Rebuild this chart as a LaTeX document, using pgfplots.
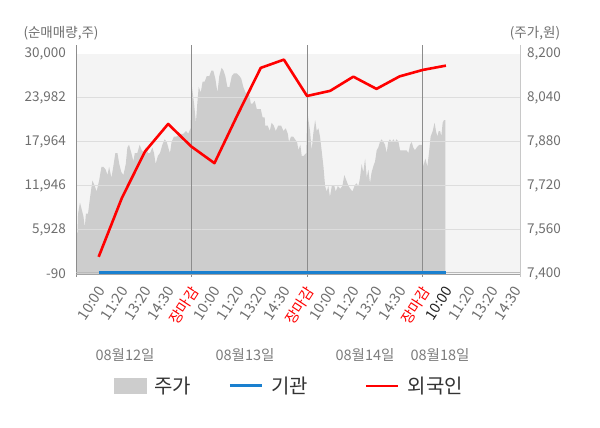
\documentclass[border=0pt]{standalone}
\usepackage{pgfplots}
\pgfplotsset{compat=1.18}
\usepackage{fontspec}
\setmainfont{Noto Sans CJK KR}
\definecolor{bggray}{HTML}{F4F4F4}
\definecolor{areagray}{HTML}{CDCDCD}
\definecolor{gridgray}{HTML}{DDDDDD}
\definecolor{sepgray}{HTML}{8C8C8C}
\definecolor{edgegray}{HTML}{C8C8C8}
\definecolor{ticktext}{HTML}{6E6E6E}
\definecolor{darktext}{HTML}{222222}
\definecolor{blueline}{HTML}{1A80CF}
\definecolor{legtext}{HTML}{333333}
\definecolor{redline}{HTML}{FF0000}

\pgfplotstableread{
x price
0.02 7570
0.08 7540
0.11 7620
0.19 7660
0.25 7640
0.34 7610
0.40 7570
0.45 7620
0.54 7620
0.63 7680
0.73 7740
0.83 7720
0.91 7700
1.02 7740
1.12 7790
1.20 7790
1.30 7780
1.38 7760
1.45 7790
1.55 7750
1.63 7790
1.72 7840
1.81 7840
1.89 7800
1.98 7770
2.07 7760
2.17 7800
2.24 7860
2.31 7870
2.41 7840
2.50 7810
2.56 7840
2.67 7840
2.77 7870
2.86 7850
2.96 7840
3.03 7860
3.13 7840
3.22 7840
3.32 7860
3.39 7840
3.46 7800
3.56 7830
3.65 7840
3.75 7870
3.85 7890
3.94 7880
4.04 7850
4.08 7840
4.15 7880
4.25 7900
4.37 7900
4.51 7910
4.66 7910
4.77 7920
4.87 7910
4.97 7930
5.01 8100
5.03 8080
5.12 8020
5.20 7950
5.26 8020
5.32 8080
5.41 8060
5.49 8100
5.58 8100
5.67 8120
5.78 8120
5.87 8140
5.95 8140
6.04 8110
6.13 8060
6.21 8120
6.31 8150
6.39 8140
6.47 8120
6.56 8080
6.65 8080
6.75 8120
6.85 8130
6.96 8130
7.08 8120
7.16 8110
7.25 8080
7.34 8060
7.42 8060
7.51 8050
7.57 8020
7.65 8020
7.74 8030
7.83 8000
7.91 8000
8.00 8000
8.08 7970
8.17 7970
8.19 7940
8.30 7940
8.39 7920
8.47 7950
8.56 7940
8.65 7920
8.76 7940
8.88 7940
8.98 7920
9.08 7930
9.17 7910
9.22 7880
9.31 7900
9.40 7900
9.48 7890
9.57 7880
9.63 7850
9.71 7870
9.77 7830
9.86 7830
9.97 7840
10.01 8000
10.06 7960
10.13 7920
10.20 7850
10.27 7910
10.35 7960
10.42 7920
10.49 7930
10.56 7900
10.63 7850
10.71 7790
10.78 7720
10.85 7700
10.92 7720
10.99 7680
11.07 7720
11.18 7720
11.24 7700
11.33 7720
11.43 7710
11.53 7720
11.61 7760
11.70 7740
11.79 7720
11.87 7710
11.96 7700
12.05 7720
12.13 7730
12.22 7720
12.29 7750
12.36 7800
12.43 7770
12.51 7820
12.58 7750
12.65 7780
12.72 7730
12.79 7770
12.86 7790
12.94 7810
13.01 7850
13.08 7860
13.15 7880
13.22 7890
13.30 7880
13.37 7870
13.44 7840
13.51 7880
13.58 7890
13.66 7880
13.73 7890
13.80 7880
13.87 7890
13.95 7880
14.02 7850
14.16 7850
14.30 7850
14.38 7840
14.45 7870
14.52 7880
14.59 7860
14.66 7850
14.74 7860
14.85 7870
14.98 7870
15.02 7790
15.11 7820
15.20 7790
15.28 7850
15.34 7900
15.43 7920
15.51 7950
15.57 7920
15.63 7900
15.69 7920
15.75 7920
15.80 7900
15.86 7950
15.92 7960
15.98 7960
}\pricetable

\pgfplotstableread{
x foreign
1 2265
2 10300
3 16660
4 20430
5 17350
6 15070
7 21690
8 28100
9 29230
10 24260
11 24960
12 26900
13 25230
14 26940
15 27820
16 28410
}\foreigntable

\pgfplotstableread{
x inst
1 150
2 150
3 150
4 150
5 150
6 150
7 150
8 150
9 150
10 150
11 150
12 150
13 150
14 150
15 150
16 150
}\insttable

\begin{document}
\begin{tikzpicture}
\useasboundingbox (0,0) rectangle (600bp,428bp);
% price axis (right)
\begin{axis}[
  at={(76bp,154bp)}, anchor=south west,
  scale only axis, width=444bp, height=220bp,
  xmin=0.02, xmax=19.2, ymin=7400, ymax=8200,
  scaled y ticks=false,
  axis background/.style={fill=bggray},
  axis line style={draw=none},
  xtick=\empty,
  ytick={7400,7560,7720,7880,8040,8200},
  yticklabels={{7,400},{7,560},{7,720},{7,880},{8,040},{8,200}},
  yticklabel pos=right,
  major tick length=0pt,
  yticklabel style={font=\fontsize{13.5bp}{16bp}\selectfont, text=ticktext, anchor=west, inner sep=0pt, xshift=7bp},
]
\addplot[fill=areagray, draw=none] table[x=x, y=price] {\pricetable} \closedcycle;
\end{axis}
% volume axis (left)
\begin{axis}[
  at={(76bp,154bp)}, anchor=south west,
  scale only axis, width=444bp, height=220bp,
  xmin=0.02, xmax=19.2, ymin=-90, ymax=30000,
  scaled y ticks=false, scaled x ticks=false,
  clip=false,
  axis line style={draw=none},
  major tick length=0pt,
  ytick={-90,5928,11946,17964,23982,30000},
  yticklabels={-90,{5,928},{11,946},{17,964},{23,982},{30,000}},
  yticklabel style={font=\fontsize{13.5bp}{16bp}\selectfont, text=ticktext, anchor=east, inner sep=0pt, xshift=-10bp},
  extra y ticks={5928,11946,17964,23982},
  extra y tick labels={},
  extra y tick style={grid=major, major grid style={gridgray, line width=1bp}},
  xtick={1,...,19},
  xticklabels={10:00,11:20,13:20,14:30,\textcolor{redline}{장마감},10:00,11:20,13:20,14:30,\textcolor{redline}{장마감},10:00,11:20,13:20,14:30,\textcolor{redline}{장마감},\textcolor{darktext}{10:00},11:20,13:20,14:30},
  xticklabel style={font=\fontsize{14.5bp}{16bp}\selectfont, text=ticktext, inner sep=0pt, xshift=-2bp, yshift=-11bp, rotate=57, anchor=north east},
  legend columns=3,
  legend style={draw=none, fill=none, inner sep=0pt, at={(0.0856,-0.509)}, anchor=west,
    font=\fontsize{20bp}{22bp}\selectfont, text=legtext,
    /tikz/every odd column/.append style={column sep=6bp},
    /tikz/every even column/.append style={column sep=35bp}},
  legend image code/.code={\draw[#1] (0bp,0bp) -- (32bp,0bp);},
]
% edges and separators
\addplot[forget plot, sepgray, line width=1bp] coordinates {(0.02,-500) (0.02,31230)};
\addplot[forget plot, edgegray, line width=1bp] coordinates {(19.2,-500) (19.2,31230)};
\addplot[forget plot, sepgray, line width=1bp] coordinates {(5,-500) (5,31230)};
\addplot[forget plot, sepgray, line width=1bp] coordinates {(10,-500) (10,31230)};
\addplot[forget plot, sepgray, line width=1bp] coordinates {(15,-500) (15,31230)};
\addplot[forget plot, sepgray!80, line width=1bp] coordinates {(0.02,-90) (19.2,-90)};
\addplot[forget plot, sepgray!60, line width=0.8bp] coordinates {(0.02,150) (19.2,150)};
\addlegendimage{legend image code/.code={\fill[areagray] (0bp,-7.5bp) rectangle (32bp,7.5bp);}}
\addlegendentry{주가}
\addplot[blueline, line width=3bp] table[x=x, y=inst] {\insttable};
\addlegendentry{기관\hspace{20bp}\null}
\addplot[redline, line width=2.6bp, line join=round] table[x=x, y=foreign] {\foreigntable};
\addlegendentry{외국인}
\end{axis}
\node[text=ticktext, font=\fontsize{13.5bp}{16bp}\selectfont] at (61bp,395bp) {(순매매량,주)};
\node[text=ticktext, font=\fontsize{13.5bp}{16bp}\selectfont] at (535bp,395bp) {(주가,원)};
\node[text=ticktext!90, font=\fontsize{14.5bp}{16bp}\selectfont] at (125bp,73bp) {08월12일};
\node[text=ticktext!90, font=\fontsize{14.5bp}{16bp}\selectfont] at (245bp,73bp) {08월13일};
\node[text=ticktext!90, font=\fontsize{14.5bp}{16bp}\selectfont] at (365bp,73bp) {08월14일};
\node[text=ticktext!90, font=\fontsize{14.5bp}{16bp}\selectfont] at (440bp,73bp) {08월18일};
\end{tikzpicture}
\end{document}
